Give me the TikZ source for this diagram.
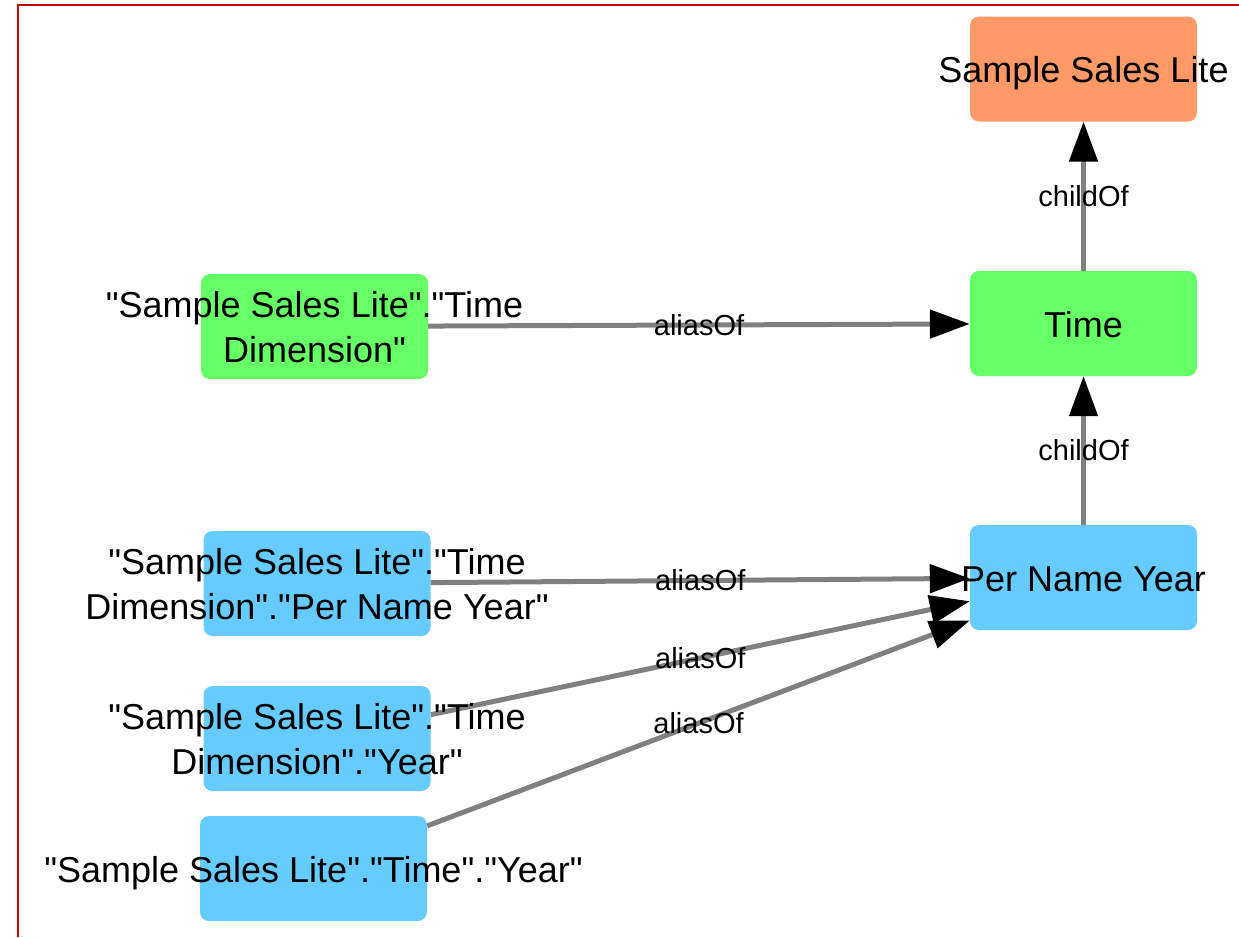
\documentclass[tikz,border=0pt]{standalone}
\usepackage{fontspec}
\setmainfont{Liberation Sans}[Ligatures = TeXOff]
\usetikzlibrary{arrows.meta , backgrounds}

\definecolor{salesorange}{RGB}{255,153,102}
\definecolor{timegreen}{RGB}{102,255,102}
\definecolor{yearblue}{RGB}{102,204,255}
\definecolor{edgegray}{RGB}{128,128,128}
\definecolor{framered}{RGB}{200,0,0}

\newcommand{\boxtext}[1]{\raisebox{-11pt}[0pt][0pt]{\makebox[0pt]{\begin{tabular}{@{}c@{}}#1\end{tabular}}}}

\begin{document}
\begin{tikzpicture}[x = 1pt , y = -1pt ,
    entity/.style = {rounded corners = 9pt , minimum width = 227pt , minimum height = 105pt , inner sep = 0pt , font = \fontsize{36}{45}\selectfont},
    relation/.style = {draw = edgegray , line width = 5pt , -{Triangle[length = 40pt , width = 28pt , color = black]}},
    tag/.style = {font = \fontsize{29}{30}\selectfont}]
    \useasboundingbox (0,0) rectangle (1239,937);
    \draw[framered , line width = 2.5pt] (18,937) -- (18,5) -- (1239,5);

    % Κόμβοι
    \node[entity , fill = salesorange] (sales) at (1083.5,69) {\boxtext{Sample Sales Lite}};
    \node[entity , fill = timegreen] (time) at (1083.5,323.5) {\boxtext{Time}};
    \node[entity , fill = yearblue] (pny) at (1083.5,577.5) {\boxtext{Per Name Year}};
    \node[entity , fill = timegreen] (timedim) at (314.5,326.5) {\boxtext{"Sample Sales Lite"."Time\\Dimension"}};
    \node[entity , fill = yearblue] (dimpny) at (317,583.5) {\boxtext{"Sample Sales Lite"."Time\\Dimension"."Per Name Year"}};
    \node[entity , fill = yearblue] (dimyear) at (317,738.5) {\boxtext{"Sample Sales Lite"."Time\\Dimension"."Year"}};
    \node[entity , fill = yearblue] (timeyear) at (313.5,868.5) {\boxtext{"Sample Sales Lite"."Time"."Year"}};

    % Ακμές
    \begin{scope}[on background layer]
        \draw[relation] (time) -- (sales) node[midway , tag]{childOf};
        \draw[relation] (pny) -- (time) node[midway , tag]{childOf};
        \draw[relation] (timedim) -- (time) node[midway , tag]{aliasOf};
        \draw[relation] (dimpny) -- (pny) node[midway , tag]{aliasOf};
        \draw[relation] (dimyear) -- (pny) node[midway , tag]{aliasOf};
        \draw[relation] (timeyear) -- (pny) node[midway , tag]{aliasOf};
    \end{scope}
\end{tikzpicture}
\end{document}
